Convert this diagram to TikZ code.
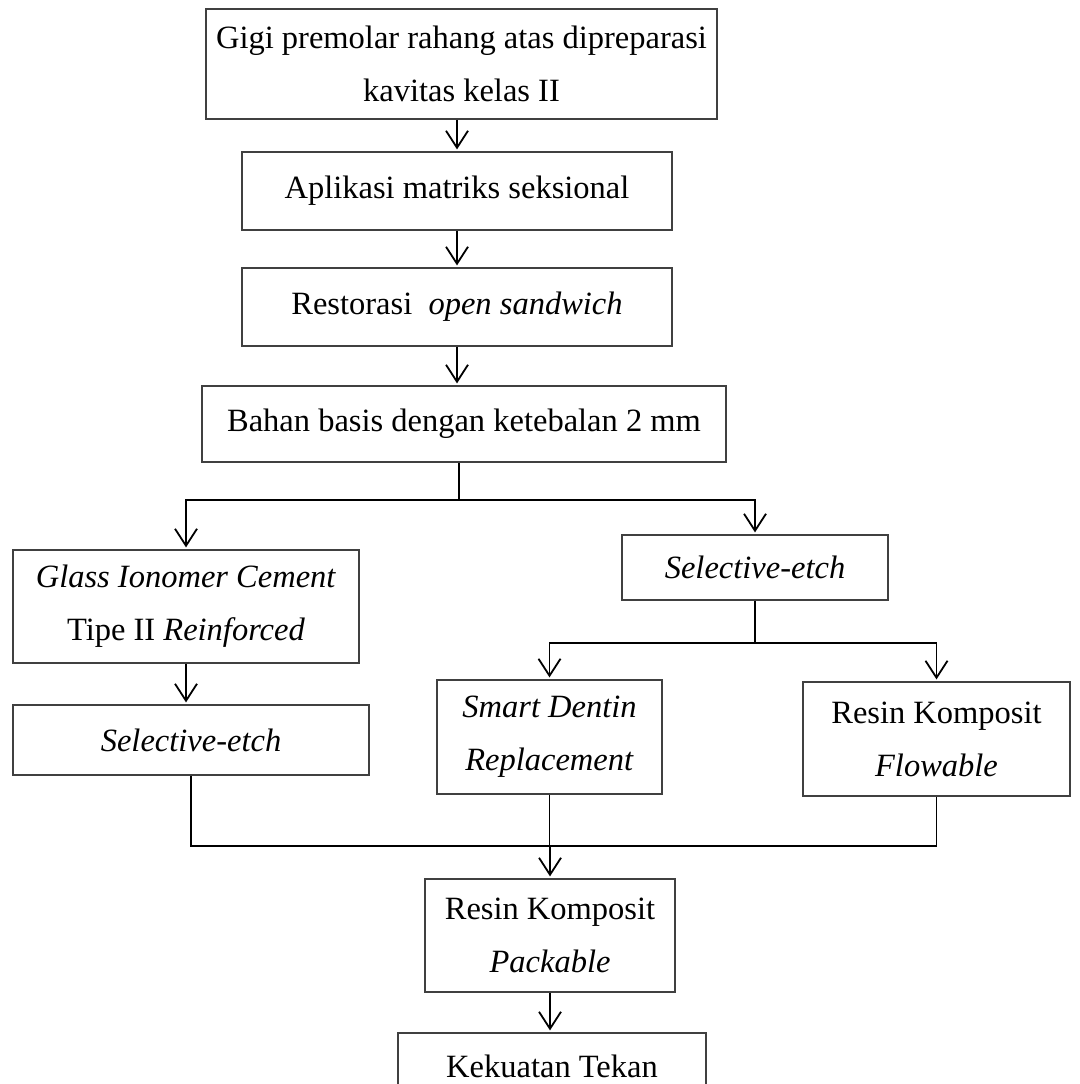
\documentclass[tikz,border=0pt]{standalone}
\usepackage{fontspec}
\setmainfont{Liberation Serif}
\usetikzlibrary{arrows.meta}
\colorlet{box edge}{black!75}
\colorlet{link}{black}
\tikzset{
  stage/.style={draw=box edge, line width=1.2pt, inner sep=0pt, align=center,
    font=\fontsize{32.5}{53}\selectfont},
  link/.style={draw=link, line width=1.8pt},
  arr/.style={link, -{Straight Barb[length=17pt,width=22pt]}, shorten >=2pt}
  }

\begin{document}
\begin{tikzpicture}[x=1pt, y=-1pt]
  \useasboundingbox (0,0) rectangle (1079,1084);

  \node[stage, minimum width=511, minimum height=110] (gigi) at (461.5,64)
    {Gigi premolar rahang atas dipreparasi\\kavitas kelas II};
  \node[stage, minimum width=430, minimum height=78] (matriks) at (457,191)
    {Aplikasi matriks seksional};
  \node[stage, minimum width=430, minimum height=78] (sandwich) at (457,307)
    {Restorasi\ \ \textit{open sandwich}};
  \node[stage, minimum width=524, minimum height=76] (basis) at (464,424)
    {Bahan basis dengan ketebalan 2 mm};

  \node[stage, minimum width=346, minimum height=113] (gic) at (186,606.5)
    {\textit{Glass Ionomer Cement}\\Tipe II \textit{Reinforced}};
  \node[stage, minimum width=266, minimum height=65] (etchR) at (755,567.5)
    {\textit{Selective-etch}};
  \node[stage, minimum width=356, minimum height=70] (etchL) at (191,740)
    {\textit{Selective-etch}};
  \node[stage, minimum width=225, minimum height=114] (sdr) at (549.5,737)
    {\textit{Smart Dentin}\\\textit{Replacement}};
  \node[stage, minimum width=267, minimum height=114] (flow) at (936.5,739)
    {Resin Komposit\\\textit{Flowable}};
  \node[stage, minimum width=250, minimum height=113] (pack) at (550,935.5)
    {Resin Komposit\\\textit{Packable}};
  \node[stage, minimum width=308, minimum height=66] (tekan) at (552,1066)
    {Kekuatan Tekan};

  % main line
  \draw[arr] (gigi.south -| matriks.north) -- (matriks.north);
  \draw[arr] (matriks) -- (sandwich);
  \draw[arr] (sandwich.south) -- (sandwich.south |- basis.north);

  % split after the base material
  \coordinate (s1) at (459,500);
  \path[link] (basis.south -| s1) -- (s1);
  \draw[arr] (s1) -| (gic.north);
  \draw[arr] (s1) -| (etchR.north);
  \draw[arr] (gic) -- (gic.south |- etchL.north);

  % split after selective-etch
  \coordinate (s2) at (755,643);
  \path[link] (etchR.south) -- (s2);
  \draw[arr] (s2) -| (sdr.north);
  \draw[arr] (s2) -| (flow.north);

  % join into the packable composite
  \coordinate (j) at (550,846);
  \path[link] (etchL.south) |- (j) -| (flow.south);
  \path[link, line width=1pt] (sdr.south) -- (sdr.south |- j);
  \draw[arr] (j) -- (pack.north);
  \draw[arr] (pack.south) -- (pack.south |- tekan.north);
\end{tikzpicture}
\end{document}
